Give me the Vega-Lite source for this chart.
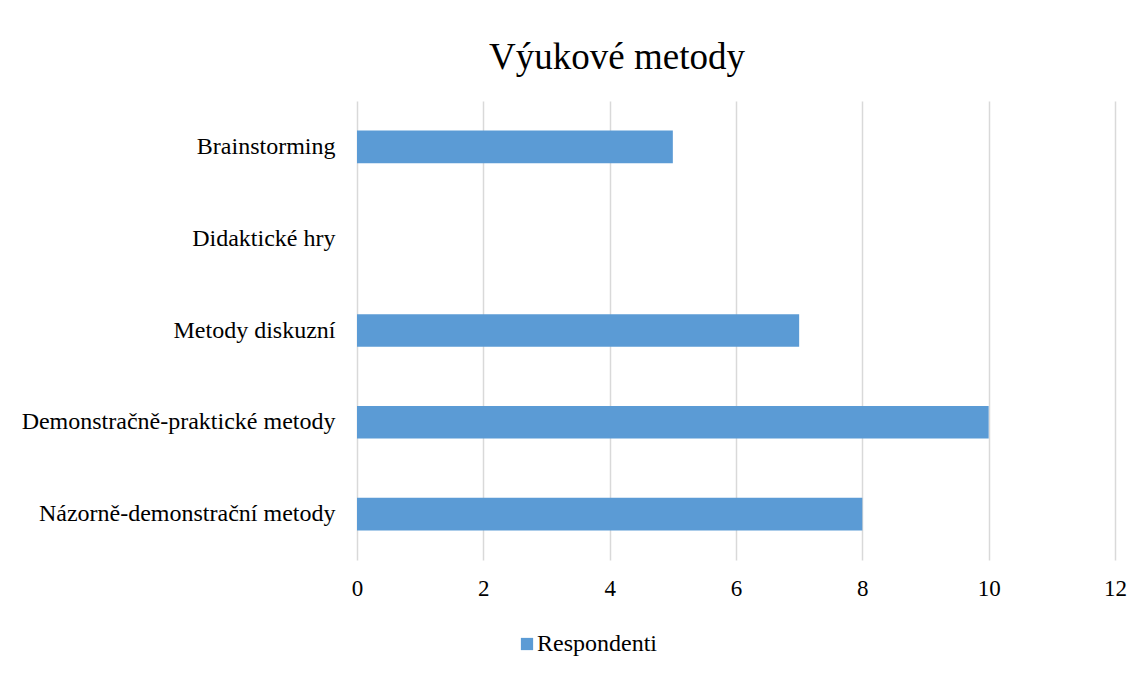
{
  "$schema": "https://vega.github.io/schema/vega-lite/v6.json",
  "autosize": "none",
  "width": 758,
  "height": 459,
  "padding": {"left": 357, "top": 101, "right": 29, "bottom": 117},
  "background": "white",
  "title": {
    "text": "Výukové metody",
    "font": "Liberation Serif",
    "fontSize": 37,
    "fontWeight": "normal",
    "color": "#000000",
    "anchor": "middle",
    "dx": -119,
    "offset": 24
  },
  "data": {
    "values": [
      {"kategorie": "Brainstorming", "hodnota": 5, "serie": "Respondenti"},
      {"kategorie": "Didaktické hry", "hodnota": 0, "serie": "Respondenti"},
      {"kategorie": "Metody diskuzní", "hodnota": 7, "serie": "Respondenti"},
      {"kategorie": "Demonstračně-praktické metody", "hodnota": 10, "serie": "Respondenti"},
      {"kategorie": "Názorně-demonstrační metody", "hodnota": 8, "serie": "Respondenti"}
    ]
  },
  "mark": {"type": "bar", "strokeWidth": 0},
  "encoding": {
    "y": {
      "field": "kategorie",
      "type": "nominal",
      "sort": null,
      "title": null,
      "scale": {"paddingInner": 0.645, "paddingOuter": 0.3225},
      "axis": {
        "domain": false,
        "ticks": false,
        "grid": false,
        "labelFont": "Liberation Serif",
        "labelFontSize": 24,
        "labelColor": "#000000",
        "labelPadding": 22,
        "labelLimit": 400
      }
    },
    "x": {
      "field": "hodnota",
      "type": "quantitative",
      "title": null,
      "scale": {"domain": [0, 12], "nice": false},
      "axis": {
        "values": [0, 2, 4, 6, 8, 10, 12],
        "domain": false,
        "ticks": false,
        "grid": true,
        "gridColor": "#d9d9d9",
        "gridWidth": 1.5,
        "labelFlush": false,
        "labelFont": "Liberation Serif",
        "labelFontSize": 23,
        "labelColor": "#000000",
        "labelPadding": 17
      }
    },
    "color": {
      "field": "serie",
      "type": "nominal",
      "scale": {"range": ["#5b9bd5"]},
      "legend": {
        "title": null,
        "orient": "none",
        "legendX": 158,
        "legendY": 531,
        "symbolType": "square",
        "symbolSize": 150,
        "symbolStrokeWidth": 0,
        "labelFont": "Liberation Serif",
        "labelFontSize": 24,
        "labelColor": "#000000",
        "labelOffset": -2
      }
    }
  },
  "config": {
    "view": {"stroke": null}
  }
}
